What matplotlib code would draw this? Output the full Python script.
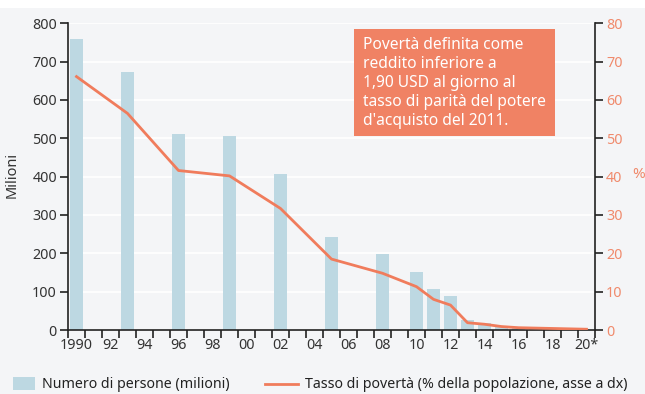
import numpy as np
import matplotlib.pyplot as plt
from matplotlib.patches import Rectangle
from matplotlib.lines import Line2D

plt.rcParams['font.family'] = ['Noto Sans', 'DejaVu Sans']

# data
years = [1990, 1993, 1996, 1999, 2002, 2005, 2008, 2010, 2011, 2012, 2013,
         2014, 2015, 2016, 2017, 2018, 2019, 2020]
persons = [758, 672, 510, 506, 407, 242, 197, 150, 106, 88, 26,
           19, 7, 4, 3, 2, 1, 1]
rate = [66.1, 56.5, 41.6, 40.2, 31.7, 18.5, 14.8, 11.3, 8.0, 6.5, 1.9,
        1.5, 0.9, 0.6, 0.5, 0.4, 0.3, 0.2]

xlabels = ['1990', '92', '94', '96', '98', '00', '02', '04', '06', '08',
           '10', '12', '14', '16', '18', '20*']
xlabel_pos = list(range(1990, 2021, 2))

note = ("Povertà definita come\nreddito inferiore a\n1,90 USD al giorno al\n"
        "tasso di parità del potere\nd'acquisto del 2011.")

bg = '#f4f5f7'
bar_c = '#bdd8e2'
line_c = '#f07c5c'
box_c = '#f08264'
txt_c = '#333333'
orange_txt = '#f08a6c'

W, H = 645, 394
fig = plt.figure(figsize=(W / 100, H / 100), dpi=100)
fig.patch.set_facecolor(bg)
# white strip at top
fig.patches.append(Rectangle((0, 1 - 8 / H), 1, 8 / H, transform=fig.transFigure,
                             facecolor='white', edgecolor='none', zorder=0))

ax = fig.add_axes([68 / W, 1 - 330 / H, (595 - 68) / W, (330 - 23.3) / H])
ax.set_facecolor(bg)
ax.bar(years, persons, width=0.76, color=bar_c, zorder=2)
ax.set_xlim(1989.5, 2020.5)
ax.set_ylim(0, 800)
ax.set_yticks(range(0, 801, 100))
ax.yaxis.grid(True, color='white', lw=1.2, zorder=1)
ax.set_axisbelow(True)

ax.set_xticks(xlabel_pos)
ax.set_xticklabels(xlabels)
ax.set_xticks(np.arange(1989.5, 2021, 1), minor=True)
ax.tick_params(axis='x', which='major', length=0, pad=6, labelsize=10.3, labelcolor=txt_c)
ax.tick_params(axis='x', which='minor', length=6, width=1.2, color='#222222')
ax.tick_params(axis='y', length=6, width=1.2, color='#222222', labelsize=10.3,
               labelcolor=txt_c, pad=2)

for s in ['top', 'right']:
    ax.spines[s].set_visible(False)
for s in ['left', 'bottom']:
    ax.spines[s].set_color('#222222')
    ax.spines[s].set_linewidth(1.2)

ax2 = ax.twinx()
ax2.plot(years, rate, color=line_c, lw=2.0, zorder=3)
ax2.set_ylim(0, 80)
ax2.set_yticks(range(0, 81, 10))
ax2.tick_params(axis='y', length=6, width=1.2, color='#222222', labelsize=10.3,
                labelcolor=orange_txt, pad=2)
for s in ['top', 'left', 'bottom']:
    ax2.spines[s].set_visible(False)
ax2.spines['right'].set_color('#222222')
ax2.spines['right'].set_linewidth(1.2)

fig.text(12 / W, 1 - 175 / H, 'Milioni', rotation=90, ha='center', va='center',
         fontsize=10.5, color=txt_c)
fig.text(639 / W, 1 - 175 / H, '%', ha='center', va='center',
         fontsize=11, color=orange_txt)

# note box
fig.patches.append(Rectangle((354 / W, 1 - 136 / H), (555 - 354) / W, (136 - 29) / H,
                             transform=fig.transFigure, facecolor=box_c,
                             edgecolor='none', zorder=5))
fig.text(363 / W, 1 - 37 / H, note, ha='left', va='top', fontsize=11.2,
         color='white', linespacing=1.24, zorder=6)

# legend
fig.patches.append(Rectangle((13 / W, 1 - 390 / H), 22 / W, 13 / H,
                             transform=fig.transFigure, facecolor=bar_c,
                             edgecolor='none'))
fig.text(42 / W, 1 - 384 / H, 'Numero di persone (milioni)', ha='left', va='center',
         fontsize=10.2, color='#222222')
fig.lines.append(Line2D([265 / W, 298 / W], [1 - 384 / H, 1 - 384 / H],
                        transform=fig.transFigure, color=line_c, lw=2.0))
fig.text(305 / W, 1 - 384 / H, 'Tasso di povertà (% della popolazione, asse a dx)',
         ha='left', va='center', fontsize=10.2, color='#222222')

fig.savefig('out.png', dpi=100, facecolor=fig.get_facecolor())
